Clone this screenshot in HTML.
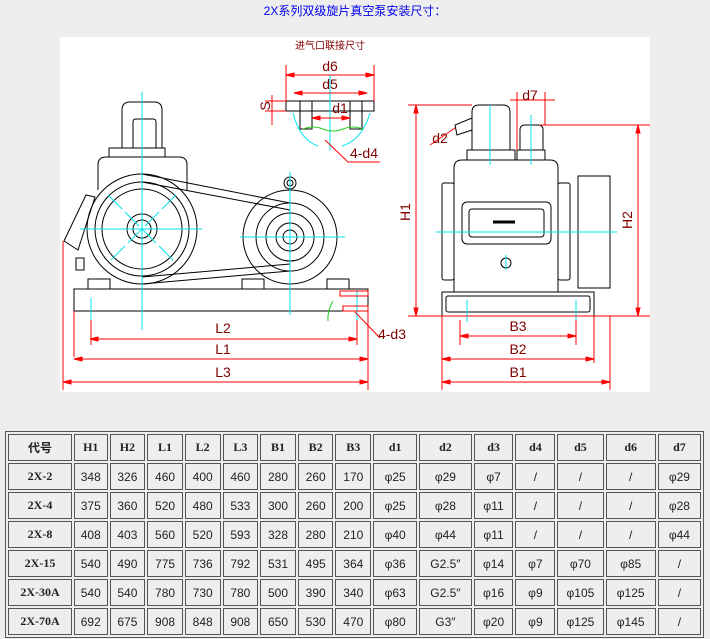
<!DOCTYPE html>
<html><head><meta charset="utf-8"><style>
body{margin:0;background:#eeeeee;width:710px;height:639px;overflow:hidden;font-family:"Liberation Sans","Noto Sans CJK SC",sans-serif;}
.t{position:absolute;left:0;top:2px;width:710px;text-align:center;color:#0000ee;font-size:12px;}
svg{position:absolute;left:0;top:0}
table{position:absolute;left:5px;top:431px;width:699px;border:1px solid #555;border-spacing:2px;background:#eeeeee;table-layout:fixed;}
td{border:1px solid #555;height:25px;text-align:center;font-size:12px;color:#222;padding:0;font-family:"Liberation Sans","Noto Sans CJK SC",sans-serif;}
tr:first-child td,td:first-child{font-weight:bold;font-family:"Liberation Serif","Noto Sans CJK SC",serif;}
</style></head><body>
<div class="t">2X系列双级旋片真空泵安装尺寸：</div>
<svg width="710" height="430" viewBox="0 0 710 430" font-family="Liberation Sans, sans-serif">
<rect x="60" y="37" width="590" height="355" fill="#fff"/>
<g fill="none" stroke="#000" stroke-width="1">
<rect x="74" y="289" width="294" height="22"/>
<path d="M122 148 V110 q0-8 8-8 h24 q8 0 8 8 V148"/>
<path d="M133 148 V122 q0-3 3-3 h17 q3 0 3 3 V148"/>
<rect x="109" y="148" width="56" height="9"/>
<path d="M98 190 V165 q0-8 8-8 h73 q8 0 8 8 V190"/>
<circle cx="142" cy="229" r="55"/><circle cx="142" cy="229" r="47"/><circle cx="142" cy="229" r="40"/>
<circle cx="142" cy="229" r="15"/><circle cx="142" cy="229" r="9"/>
<circle cx="290" cy="237" r="47"/><circle cx="290" cy="237" r="34"/><circle cx="290" cy="237" r="24"/>
<circle cx="290" cy="237" r="14"/><circle cx="290" cy="237" r="7"/>
<circle cx="290" cy="183" r="6"/><circle cx="290" cy="183" r="3"/>
<path d="M142 174 L290 203 M142 182 L290 210 M142 284 L290 271 M142 277 L290 264"/>
<path d="M64 241 L86 195 L95 197 L78 250 Z"/>
<rect x="76" y="258" width="8" height="12"/>
<rect x="88" y="279" width="22" height="10"/><rect x="242" y="279" width="22" height="10"/><rect x="327" y="279" width="22" height="10"/>
<path d="M454 292 V168 q0-8 8-8 h88 q8 0 8 8 V292"/>
<rect x="442" y="183" width="12" height="97" rx="2"/><rect x="558" y="183" width="12" height="97" rx="2"/>
<rect x="578" y="176" width="32" height="112"/>
<rect x="442" y="292" width="152" height="24"/><rect x="446" y="296" width="144" height="16" rx="2"/>
<rect x="462" y="202" width="89" height="42" rx="5"/><rect x="469" y="209" width="75" height="28" rx="3"/>
<circle cx="506" cy="263" r="5"/>
<path d="M472 150 V112 q0-7 7-7 h24 q7 0 7 7 V150"/>
<path d="M472 118 L455 125 L457 135 L472 130"/>
<rect x="467" y="150" width="48" height="10"/>
<rect x="517" y="150" width="28" height="10"/>
<path d="M520 150 V130 q0-5 5-5 h13 q5 0 5 5 V150"/>
<rect x="286" y="101" width="88" height="10"/>
<rect x="300" y="101" width="12" height="28"/><rect x="350" y="101" width="12" height="28"/>
<path d="M312 101 H350"/>
</g>
<line x1="493" y1="222" x2="515" y2="222" stroke="#000" stroke-width="3"/>
<g stroke="#00e5ee" stroke-width="1" fill="none">
<path d="M142 92 V330 M80 229 H202 M290 172 V315 M240 237 H345 M91 298 V320 M357 290 V325"/>
<path d="M108 195 L176 263 M176 195 L108 263" stroke-dasharray="20 4"/>
<path d="M490 105 V165 M531 115 V165 M436 232 H617 M506 255 V270 M467 300 V322 M576 300 V322"/>
<path d="M330 75 V150 M293 113 Q300 140 318 146 M370 113 Q362 140 342 146"/>
</g>
<path d="M303 129 q10 -4 20 0 t20 0 t20 0" stroke="#22cc22" fill="none"/>
<path d="M333 301 q-6 10 -5 20" stroke="#22cc22" fill="none"/>
<g stroke="#f00" stroke-width="1" fill="#f00">
<path d="M63 241 V390 M74 311 V357 M368 311 V390 M91 320 V345 M357 320 V345 M90 339 H357 M74 359 H368 M63 382 H368" fill="none"/>
<path d="M416 105 V316 M408 105 H472 M408 316 H650 M638 125 V316 M540 125 H650 M442 316 V390 M594 316 V363 M610 316 V390 M460 336 H576 M442 359 H594 M442 382 H610 M460 320 V345 M576 320 V345" fill="none"/>
<path d="M286 65 V101 M374 65 V101 M286 75 H374 M294 93 H367 M312 118 H350 M272 95 V125 M265 101 H286 M265 111 H286 M325 140 L348 162 H380 M355 312 L380 338 M430 145 L455 128 M517 92 V150 M545 92 V125 M510 100 H555" fill="none"/>
<rect x="340" y="291" width="28" height="5" fill="none"/><rect x="343" y="306" width="25" height="5" fill="none"/>
<path d="M90 339 l8 -2 v4 z M357 339 l-8 -2 v4 z M74 359 l8 -2 v4 z M368 359 l-8 -2 v4 z M63 382 l8 -2 v4 z M368 382 l-8 -2 v4 z M460 336 l8 -2 v4 z M576 336 l-8 -2 v4 z M442 359 l8 -2 v4 z M594 359 l-8 -2 v4 z M442 382 l8 -2 v4 z M610 382 l-8 -2 v4 z M416 105 l-2 8 h4 z M416 316 l-2 -8 h4 z M638 125 l-2 8 h4 z M638 316 l-2 -8 h4 z M286 75 l8 -2 v4 z M374 75 l-8 -2 v4 z M294 93 l8 -2 v4 z M367 93 l-8 -2 v4 z M312 118 l8 -2 v4 z M350 118 l-8 -2 v4 z"/>
</g>
<g fill="#800000" font-size="14" text-anchor="middle">
<text x="223" y="333">L2</text><text x="223" y="354">L1</text><text x="223" y="377">L3</text>
<text x="518" y="331">B3</text><text x="518" y="354">B2</text><text x="518" y="377">B1</text>
<text x="330" y="71">d6</text><text x="330" y="89">d5</text><text x="340" y="113">d1</text>
<text x="364" y="158">4-d4</text><text x="392" y="339">4-d3</text>
<text x="530" y="100">d7</text><text x="440" y="143">d2</text>
<text transform="translate(410 212) rotate(-90)">H1</text>
<text transform="translate(632 220) rotate(-90)">H2</text>
<text transform="translate(270 106) rotate(-90)">S</text>
<text x="330" y="49" font-size="10" font-family="Noto Sans CJK SC,sans-serif">进气口联接尺寸</text>
</g>
</svg>
<table>
<colgroup><col style="width:61px"><col style="width:32px"><col style="width:34px"><col style="width:34px"><col style="width:34px"><col style="width:34px"><col style="width:34px"><col style="width:34px"><col style="width:34px"><col style="width:42px"><col style="width:50px"><col style="width:38px"><col style="width:38px"><col style="width:44px"><col style="width:48px"><col style="width:41px"></colgroup>
<tr><td>代号</td><td>H1</td><td>H2</td><td>L1</td><td>L2</td><td>L3</td><td>B1</td><td>B2</td><td>B3</td><td>d1</td><td>d2</td><td>d3</td><td>d4</td><td>d5</td><td>d6</td><td>d7</td></tr>
<tr><td>2X-2</td><td>348</td><td>326</td><td>460</td><td>400</td><td>460</td><td>280</td><td>260</td><td>170</td><td>φ25</td><td>φ29</td><td>φ7</td><td>/</td><td>/</td><td>/</td><td>φ29</td></tr>
<tr><td>2X-4</td><td>375</td><td>360</td><td>520</td><td>480</td><td>533</td><td>300</td><td>260</td><td>200</td><td>φ25</td><td>φ28</td><td>φ11</td><td>/</td><td>/</td><td>/</td><td>φ28</td></tr>
<tr><td>2X-8</td><td>408</td><td>403</td><td>560</td><td>520</td><td>593</td><td>328</td><td>280</td><td>210</td><td>φ40</td><td>φ44</td><td>φ11</td><td>/</td><td>/</td><td>/</td><td>φ44</td></tr>
<tr><td>2X-15</td><td>540</td><td>490</td><td>775</td><td>736</td><td>792</td><td>531</td><td>495</td><td>364</td><td>φ36</td><td>G2.5″</td><td>φ14</td><td>φ7</td><td>φ70</td><td>φ85</td><td>/</td></tr>
<tr><td>2X-30A</td><td>540</td><td>540</td><td>780</td><td>730</td><td>780</td><td>500</td><td>390</td><td>340</td><td>φ63</td><td>G2.5″</td><td>φ16</td><td>φ9</td><td>φ105</td><td>φ125</td><td>/</td></tr>
<tr><td>2X-70A</td><td>692</td><td>675</td><td>908</td><td>848</td><td>908</td><td>650</td><td>530</td><td>470</td><td>φ80</td><td>G3″</td><td>φ20</td><td>φ9</td><td>φ125</td><td>φ145</td><td>/</td></tr>
</table>
</body></html>
